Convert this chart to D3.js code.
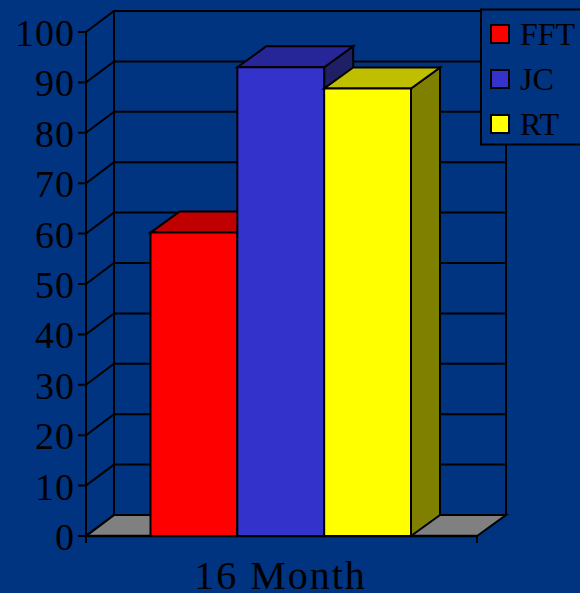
<!DOCTYPE html>
<html><head><meta charset="utf-8">
<script src="https://cdn.jsdelivr.net/npm/d3@7/dist/d3.min.js"></script>
<style>html,body{margin:0;padding:0;background:#003380;overflow:hidden}svg{display:block}text{font-family:"Liberation Serif",serif;fill:#000}</style>
</head><body><svg id="c" width="580" height="593"></svg>
<script>
const categories = ["16 Month"];
const seriesNames = ["FFT", "JC", "RT"];
const seriesValues = [60.2, 93, 88.8];
const tickValues = [0,10,20,30,40,50,60,70,80,90,100];
const frontColors = ["#ff0000", "#3333cc", "#ffff00"];
const topColors = ["#c00000", "#262699", "#bfbf00"];
const sideColors = ["#800000", "#1f1f66", "#808000"];

const svg = d3.select("#c");
const W = 580, H = 593;
const depthX = 28, depthY = -21;
const y = d3.scaleLinear().domain([0,100]).range([536,32]);
const xCat = d3.scaleBand().domain(categories).range([86,477]);
const xSer = d3.scaleBand().domain(seriesNames).range([150.5,411]);
const x0 = xCat.range()[0], x1 = xCat.range()[1];
const line = (p, w=2) => svg.append("path").attr("d", d3.line()(p)).attr("fill","none").attr("stroke","#000").attr("stroke-width",w);
const poly = (p, fill, w=2) => svg.append("path").attr("d", d3.line()(p)+"Z").attr("fill",fill).attr("stroke","#000").attr("stroke-width",w).attr("stroke-linejoin","miter");

svg.append("rect").attr("width",W).attr("height",H).attr("fill","#003380");

// floor
poly([[x0,y(0)],[x0+depthX,y(0)+depthY],[x1+depthX+1,y(0)+depthY],[x1,y(0)]], "#808080");
// walls
line([[x0+depthX,y(100)+depthY],[x0+depthX,y(0)+depthY]]);
line([[x1+depthX+1,y(100)+depthY],[x1+depthX+1,y(0)+depthY]]);
line([[x0,y(100)],[x0,y(0)+7]]);
line([[x1,y(0)],[x1,y(0)+7]]);
// grid and ticks
tickValues.forEach(t=>{
  line([[x0-8,y(t)],[x0,y(t)],[x0+depthX,y(t)+depthY],[x1+depthX+1,y(t)+depthY]]);
  svg.append("text").attr("x",x0-11).attr("y",y(t)+14).attr("text-anchor","end")
     .attr("font-size",38).attr("letter-spacing",1).text(t);
});
line([[x0,y(0)],[x1,y(0)]],2.5);

// bars
seriesNames.forEach((s,i)=>{
  const l = xSer(s), r = l + xSer.bandwidth(), t = y(seriesValues[i]), b = y(0);
  poly([[r,b],[r+depthX+1,b+depthY],[r+depthX+1,t+depthY],[r,t]], sideColors[i]);
  poly([[l,t],[l+depthX+1,t+depthY],[r+depthX+1,t+depthY],[r,t]], topColors[i]);
  poly([[l,t],[r,t],[r,b],[l,b]], frontColors[i]);
});

// category label
categories.forEach(c=>{
  svg.append("text").attr("x",xCat(c)+xCat.bandwidth()/2-1).attr("y",589).attr("text-anchor","middle")
     .attr("font-size",40).attr("letter-spacing",2).text(c);
});

// legend
svg.append("rect").attr("x",481).attr("y",9.5).attr("width",110).attr("height",135).attr("fill","#003380").attr("stroke","#000").attr("stroke-width",2);
const legY = d3.scalePoint().domain(seriesNames).range([34,124]);
seriesNames.forEach((s,i)=>{
  svg.append("rect").attr("x",491).attr("y",legY(s)-9).attr("width",18).attr("height",18)
     .attr("fill",frontColors[i]).attr("stroke","#000").attr("stroke-width",2);
  svg.append("text").attr("x",520).attr("y",legY(s)+11).attr("font-size",32).text(s);
});
</script></body></html>
